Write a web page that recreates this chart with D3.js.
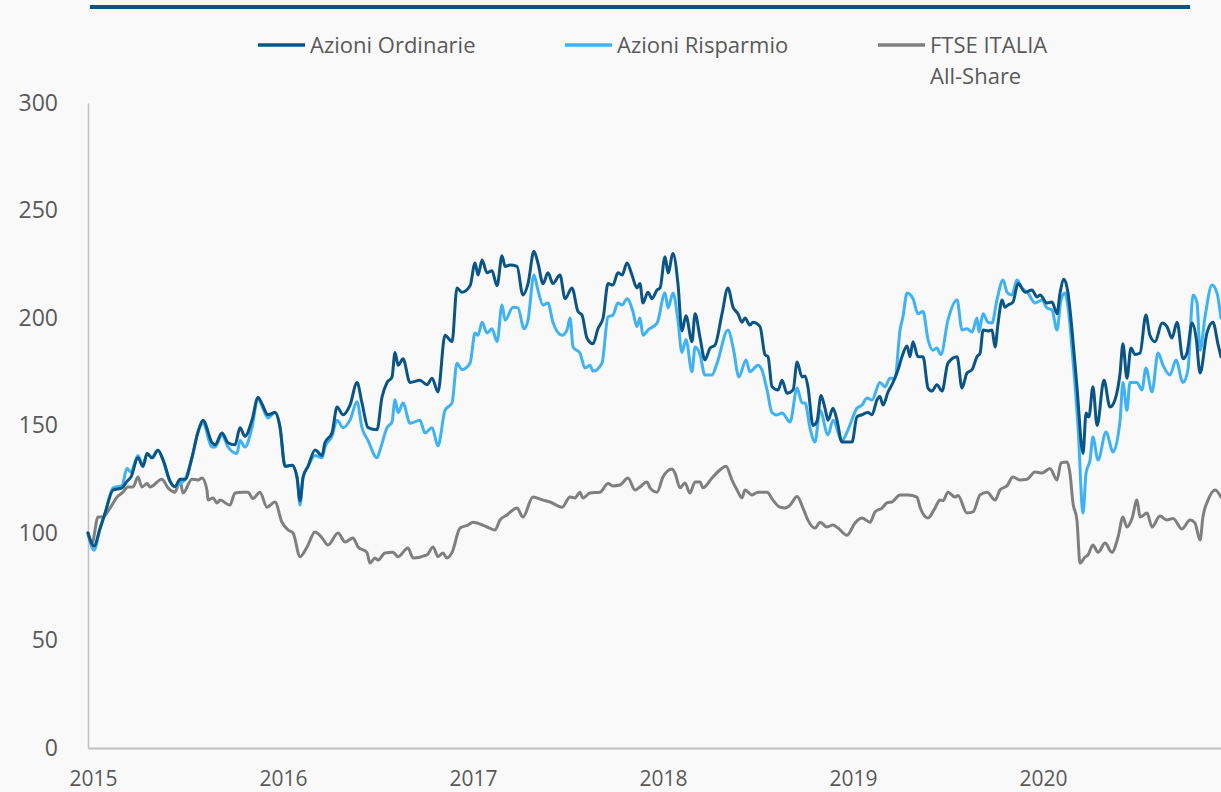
<!DOCTYPE html>
<html>
<head>
<meta charset="utf-8">
<script src="https://cdn.jsdelivr.net/npm/d3@7"></script>
<style>
  html, body { margin: 0; padding: 0; background: #f9f9f9; }
  svg { display: block; }
  text { font-family: "Open Sans", "Noto Sans", sans-serif; fill: #595959; }
</style>
</head>
<body>
<svg id="chart" width="1221" height="792"></svg>
<script>
// ---- DATA (decimal year, index value; base 100 = start of 2015) ----
const seriesNames = ["Azioni Ordinarie", "Azioni Risparmio", "FTSE ITALIA All-Share"];
const yTicks = [0, 50, 100, 150, 200, 250, 300];
const xTickLabels = [2015, 2016, 2017, 2018, 2019, 2020];

const ordinarie = [
[2015.000,100],[2015.032,94],[2015.063,102],[2015.089,109],[2015.132,120],[2015.179,121],[2015.205,124],[2015.226,126],
[2015.263,135],[2015.289,131],[2015.311,137],[2015.337,135],[2015.368,138.5],[2015.395,134],[2015.432,124],[2015.458,121.5],
[2015.484,125],[2015.511,125],[2015.547,135],[2015.579,147],[2015.605,152.5],[2015.653,142],[2015.668,141],[2015.705,146.5],
[2015.737,142],[2015.774,141],[2015.800,149],[2015.826,145],[2015.863,152.5],[2015.895,163],[2015.916,160],[2015.947,155],
[2015.984,156],[2016.011,149],[2016.037,131],[2016.074,131.5],[2016.100,126],[2016.116,115],[2016.132,126],[2016.158,131],
[2016.195,138.6],[2016.232,136],[2016.247,142],[2016.284,146.5],[2016.311,158.6],[2016.342,155],[2016.379,159.5],[2016.416,170],
[2016.442,160.5],[2016.474,149],[2016.521,148],[2016.547,163],[2016.574,170],[2016.600,172.5],[2016.616,184],[2016.632,178],
[2016.658,181],[2016.695,170],[2016.747,171],[2016.784,169],[2016.811,172],[2016.842,165.6],[2016.879,192],[2016.916,189],
[2016.942,214],[2016.968,212],[2017.011,215],[2017.037,225.6],[2017.053,220],[2017.074,227],[2017.100,221],[2017.126,222],
[2017.153,215],[2017.179,229],[2017.195,224],[2017.221,224.6],[2017.258,224],[2017.289,210.7],[2017.316,216],[2017.347,231],
[2017.368,225.6],[2017.395,216],[2017.421,221],[2017.447,216],[2017.484,220],[2017.511,209],[2017.547,214],[2017.579,203],
[2017.600,201.4],[2017.626,190.7],[2017.658,188],[2017.684,195],[2017.711,200],[2017.737,216],[2017.763,215.3],[2017.789,221],
[2017.811,220],[2017.837,225.6],[2017.863,220],[2017.889,214],[2017.905,216],[2017.921,207],[2017.947,212],[2017.968,209],
[2017.995,213],[2018.011,214],[2018.037,228.5],[2018.053,221],[2018.079,230],[2018.105,216],[2018.126,194],[2018.147,201],
[2018.179,189],[2018.195,202],[2018.221,191],[2018.247,180.5],[2018.274,186],[2018.300,187.4],[2018.337,202],[2018.368,214],
[2018.395,205],[2018.421,202],[2018.442,198],[2018.458,200],[2018.484,196.7],[2018.500,198],[2018.537,196],[2018.563,183],
[2018.579,182],[2018.600,168],[2018.632,166.5],[2018.653,171],[2018.679,165],[2018.711,166.5],[2018.732,179.5],[2018.758,172.6],
[2018.774,173],[2018.789,168],[2018.816,150],[2018.837,152],[2018.858,164],[2018.879,158],[2018.895,152.5],[2018.921,158],
[2018.942,152.5],[2018.968,142.3],[2019.021,142.3],[2019.047,154],[2019.074,155],[2019.105,156],[2019.126,155],[2019.153,162],
[2019.168,163.5],[2019.184,159.5],[2019.211,165.6],[2019.237,170],[2019.263,175.8],[2019.284,182],[2019.311,187],[2019.326,182],
[2019.342,189],[2019.368,182],[2019.395,182],[2019.421,167.4],[2019.442,166],[2019.468,169],[2019.495,166],[2019.526,179],
[2019.574,182],[2019.600,167.4],[2019.626,174.4],[2019.653,176],[2019.679,182],[2019.695,183.5],[2019.711,194.4],[2019.737,194],
[2019.758,194.4],[2019.774,186.5],[2019.789,197],[2019.811,208.4],[2019.826,205],[2019.842,206],[2019.868,207.4],[2019.895,216],
[2019.932,212],[2019.968,213],[2019.995,209.8],[2020.011,210.7],[2020.047,207],[2020.074,207.4],[2020.100,202],[2020.116,211.6],
[2020.137,218],[2020.158,211.6],[2020.179,194.4],[2020.205,168],[2020.237,137],[2020.253,155.8],[2020.268,154],[2020.289,168],
[2020.311,150],[2020.347,171],[2020.379,158.6],[2020.405,161.9],[2020.432,174.4],[2020.447,188],[2020.468,172],[2020.489,186],
[2020.511,183],[2020.537,183.7],[2020.568,201.4],[2020.589,192],[2020.616,189],[2020.653,197.7],[2020.679,196],[2020.705,190.7],
[2020.732,198],[2020.763,181],[2020.784,183.7],[2020.811,197.7],[2020.832,191],[2020.853,174.4],[2020.889,193],[2020.921,198],
[2020.947,188],[2020.963,182]
];

const risparmio = [
[2015.000,100],[2015.032,92],[2015.063,102],[2015.089,109],[2015.132,121],[2015.179,122],[2015.205,130],[2015.226,128.4],
[2015.263,136],[2015.289,131],[2015.311,137],[2015.337,135],[2015.368,138.5],[2015.395,134],[2015.432,124],[2015.458,121.5],
[2015.484,123],[2015.511,125],[2015.547,135],[2015.579,147],[2015.605,151],[2015.653,140],[2015.668,140],[2015.705,145.5],
[2015.737,140],[2015.784,137],[2015.800,143],[2015.826,140],[2015.863,149],[2015.895,163],[2015.916,159],[2015.947,153.5],
[2015.984,156],[2016.011,149],[2016.037,131],[2016.074,131.5],[2016.100,126],[2016.116,113],[2016.132,126],[2016.158,131],
[2016.195,136],[2016.232,135],[2016.247,140],[2016.284,145],[2016.311,152.5],[2016.342,149],[2016.379,152.5],[2016.416,161],
[2016.442,149],[2016.474,143],[2016.521,135],[2016.537,138.6],[2016.574,149],[2016.600,151.6],[2016.616,162],[2016.632,156],
[2016.658,160.5],[2016.695,151],[2016.747,152.5],[2016.774,146.5],[2016.811,149],[2016.842,140.5],[2016.879,157],[2016.916,160.5],
[2016.942,179],[2016.968,176],[2017.011,179],[2017.037,193],[2017.053,192],[2017.074,198],[2017.100,193],[2017.126,195],
[2017.153,189],[2017.179,206],[2017.195,199],[2017.237,205],[2017.263,204.7],[2017.295,195],[2017.316,199],[2017.347,220],
[2017.368,213],[2017.395,206],[2017.421,207],[2017.447,198],[2017.495,192],[2017.521,194.4],[2017.537,200],[2017.553,186.5],
[2017.589,183.7],[2017.616,176.7],[2017.642,178],[2017.658,175.3],[2017.705,179],[2017.737,200.5],[2017.763,201.4],[2017.789,207],
[2017.811,206],[2017.837,209],[2017.868,203],[2017.889,196],[2017.905,200],[2017.921,192],[2017.947,194.4],[2017.995,197.6],
[2018.037,211.6],[2018.053,204.7],[2018.079,211.6],[2018.105,199],[2018.126,184],[2018.147,190],[2018.179,175],[2018.195,186.5],
[2018.221,183],[2018.247,173.5],[2018.284,173.5],[2018.311,179],[2018.368,194.4],[2018.395,186.5],[2018.426,172.6],[2018.463,180.5],
[2018.484,175],[2018.526,178],[2018.547,175.8],[2018.574,166.5],[2018.600,156],[2018.626,154.9],[2018.653,155.8],[2018.695,151.6],
[2018.732,167.4],[2018.758,160.5],[2018.774,160.5],[2018.800,148.8],[2018.826,142.3],[2018.853,157],[2018.895,145.6],[2018.921,152.5],
[2018.968,143],[2019.000,148],[2019.047,158],[2019.074,159.5],[2019.100,162.8],[2019.126,161.9],[2019.168,170],[2019.195,168],
[2019.221,172],[2019.247,172],[2019.274,194.4],[2019.289,200.5],[2019.311,211.6],[2019.342,209],[2019.368,202],[2019.395,203],
[2019.421,190],[2019.447,185],[2019.468,186],[2019.489,183],[2019.526,199],[2019.574,208.4],[2019.600,194.4],[2019.626,195],
[2019.653,193.5],[2019.679,200],[2019.689,193.5],[2019.711,202],[2019.737,198],[2019.758,197.7],[2019.784,208.4],[2019.816,217.7],
[2019.837,212],[2019.863,210.7],[2019.889,217.7],[2019.916,214],[2019.947,211.6],[2019.984,207],[2020.021,208.4],[2020.047,204.7],
[2020.074,203.7],[2020.100,194.4],[2020.121,208.4],[2020.142,211.6],[2020.158,205],[2020.184,180.5],[2020.211,149],[2020.237,109.3],
[2020.253,128],[2020.274,134],[2020.289,144.6],[2020.316,134],[2020.358,147],[2020.395,137.7],[2020.432,152.5],[2020.447,170],
[2020.468,157],[2020.484,170],[2020.521,170],[2020.547,166.5],[2020.568,176.7],[2020.600,165.6],[2020.632,183.7],[2020.658,178],
[2020.695,173.5],[2020.726,180.5],[2020.763,170],[2020.789,175.8],[2020.816,210.7],[2020.837,207],[2020.853,185],[2020.879,200.5],
[2020.916,215.3],[2020.942,211.6],[2020.963,200]
];

const ftse = [
[2015.000,100],[2015.021,95.3],[2015.053,107.5],[2015.079,107.5],[2015.116,111.6],[2015.153,116.7],[2015.184,119],[2015.211,121.4],
[2015.237,121.4],[2015.263,126],[2015.284,121.4],[2015.311,123],[2015.326,121.4],[2015.389,125],[2015.421,121],[2015.458,119],
[2015.484,124.7],[2015.500,118.6],[2015.547,125],[2015.579,124.7],[2015.600,125.6],[2015.626,120],[2015.632,115.3],[2015.658,116.3],
[2015.679,114],[2015.695,115.3],[2015.747,113],[2015.774,118.6],[2015.811,119],[2015.842,119],[2015.868,116],[2015.905,119],
[2015.942,112],[2015.984,114.4],[2016.021,105],[2016.053,101.4],[2016.079,100],[2016.116,89],[2016.153,93.5],[2016.195,100.5],
[2016.232,97.7],[2016.263,94.4],[2016.316,100],[2016.353,95.8],[2016.395,97.7],[2016.421,93.5],[2016.468,91],[2016.484,86],
[2016.511,88.4],[2016.526,87.4],[2016.563,90.7],[2016.605,91],[2016.632,89],[2016.684,93],[2016.711,88.4],[2016.784,89.8],
[2016.816,93.5],[2016.842,89],[2016.868,90.7],[2016.889,88.4],[2016.916,91],[2016.958,102.3],[2017.000,103.7],[2017.026,105],
[2017.100,102.8],[2017.142,101.4],[2017.168,106],[2017.205,108.4],[2017.258,111.6],[2017.289,107.4],[2017.342,116.7],[2017.395,115.3],
[2017.432,114.4],[2017.495,112],[2017.537,116.7],[2017.563,116.3],[2017.589,119],[2017.605,116.3],[2017.642,118.6],[2017.695,119],
[2017.737,123],[2017.763,121.9],[2017.800,122.3],[2017.842,125.6],[2017.879,120],[2017.905,121.4],[2017.942,123.7],[2017.958,121],
[2017.995,119],[2018.026,126],[2018.074,129.8],[2018.089,127.9],[2018.116,121],[2018.142,123.3],[2018.168,118.6],[2018.195,123.7],
[2018.221,123.7],[2018.237,121],[2018.284,125.6],[2018.326,129.3],[2018.358,131],[2018.389,124.7],[2018.416,120],[2018.442,116.3],
[2018.458,120],[2018.495,117.7],[2018.526,119],[2018.574,119],[2018.605,115.3],[2018.642,112],[2018.668,111.6],[2018.695,113],
[2018.732,117],[2018.763,111.6],[2018.789,106],[2018.826,102.3],[2018.853,105],[2018.889,102.8],[2018.921,103.7],[2018.947,102.3],
[2018.995,99],[2019.037,104.7],[2019.074,107],[2019.116,105],[2019.142,109.8],[2019.179,111.6],[2019.205,114],[2019.232,114.5],
[2019.274,117.7],[2019.316,117.7],[2019.363,116.7],[2019.379,112],[2019.421,107],[2019.458,111.6],[2019.484,115.3],[2019.500,115],
[2019.526,119],[2019.563,116.7],[2019.579,117.5],[2019.626,109.3],[2019.658,109.8],[2019.695,117.7],[2019.732,119],[2019.774,115.3],
[2019.800,120],[2019.837,122],[2019.868,126],[2019.905,124.7],[2019.942,125],[2019.984,128.4],[2020.021,127.9],[2020.063,130],
[2020.100,124.7],[2020.121,132.6],[2020.153,133],[2020.168,127.9],[2020.184,114],[2020.205,106],[2020.221,86],[2020.247,88.8],
[2020.263,89.8],[2020.289,94.4],[2020.316,91],[2020.353,95.3],[2020.389,91],[2020.421,98],[2020.447,107.4],[2020.468,102.8],
[2020.495,106.8],[2020.521,115.3],[2020.537,107.4],[2020.574,109.3],[2020.600,102.8],[2020.642,107.9],[2020.679,106],[2020.711,106.8],
[2020.758,101.9],[2020.800,106],[2020.826,104.7],[2020.853,96.7],[2020.868,107.4],[2020.895,115.3],[2020.932,120],[2020.963,116.7]
];

const seriesData = [ordinarie, risparmio, ftse];
const seriesColors = ["#0b5486", "#3fb2f5", "#7f7f7f"];

// ---- LAYOUT ----
const W = 1221, H = 792;
const svg = d3.select("#chart");
svg.append("rect").attr("width", W).attr("height", H).attr("fill", "#f9f9f9");

const x = d3.scaleLinear().domain([2015, 2021]).range([88, 1228]);
const y = d3.scaleLinear().domain([0, 300]).range([748, 103]);

// top bar
svg.append("rect").attr("x", 90).attr("y", 5).attr("width", 1100).attr("height", 4).attr("fill", "#0b5486");

// y axis
const yAxis = d3.axisLeft(y).tickValues(yTicks).tickSize(0).tickPadding(30);
const gy = svg.append("g").attr("transform", "translate(88,0)").call(yAxis);
gy.select(".domain").attr("stroke", "#bfbfbf").attr("stroke-width", 1.5);
gy.selectAll("text").attr("font-size", 23).attr("fill", "#595959")
  .attr("font-family", "'Open Sans', sans-serif");

// x axis
const xAxis = d3.axisBottom(x).tickValues(xTickLabels).tickSize(0).tickPadding(23).tickFormat(d3.format("d"));
const gx = svg.append("g").attr("transform", "translate(0,748)").call(xAxis);
gx.select(".domain").attr("stroke", "#bfbfbf").attr("stroke-width", 2);
gx.selectAll("text").attr("font-size", 21).attr("fill", "#595959").attr("dx", 5)
  .attr("font-family", "'Open Sans', sans-serif");

// lines
const line = d3.line().x(d => x(d[0])).y(d => y(d[1])).curve(d3.curveMonotoneX);
const order = [2, 1, 0];
order.forEach(i => {
  svg.append("path")
    .datum(seriesData[i])
    .attr("fill", "none")
    .attr("stroke", seriesColors[i])
    .attr("stroke-width", 3)
    .attr("stroke-linejoin", "round")
    .attr("stroke-linecap", "round")
    .attr("d", line);
});

// legend
const legendX = [258, 565, 878];
const legend = svg.append("g");
seriesNames.forEach((name, i) => {
  const g = legend.append("g").attr("transform", `translate(${legendX[i]},45)`);
  g.append("line").attr("x1", 0).attr("x2", 47).attr("y1", 0).attr("y2", 0)
    .attr("stroke", seriesColors[i]).attr("stroke-width", 3.5);
  const t = g.append("text").attr("x", 52).attr("y", 8).attr("font-size", 22).attr("fill", "#595959");
  if (i === 2) {
    t.append("tspan").attr("x", 52).text("FTSE ITALIA");
    t.append("tspan").attr("x", 52).attr("dy", 31).text("All-Share");
  } else {
    t.text(name);
  }
});
</script>
</body>
</html>
